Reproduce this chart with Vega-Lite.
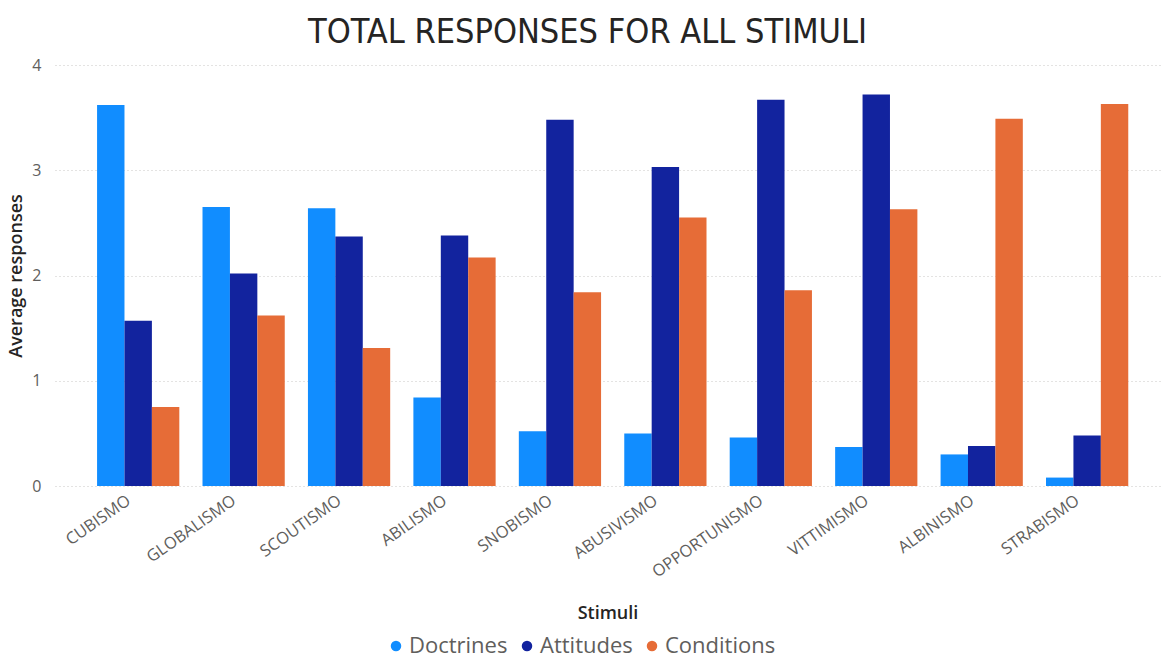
{
  "$schema": "https://vega.github.io/schema/vega-lite/v6.json",
  "width": 1105,
  "height": 421,
  "autosize": "none",
  "padding": {"left": 55, "top": 65, "right": 4, "bottom": 173},
  "background": "white",
  "title": {
    "text": "TOTAL RESPONSES FOR ALL STIMULI",
    "font": "DejaVu Sans Condensed",
    "fontSize": 34,
    "fontWeight": "normal",
    "color": "#252423",
    "anchor": "middle",
    "dx": -20,
    "offset": 7
  },
  "data": {
    "values": [
      {"stimulus": "CUBISMO", "type": "Doctrines", "value": 3.62},
      {"stimulus": "CUBISMO", "type": "Attitudes", "value": 1.57},
      {"stimulus": "CUBISMO", "type": "Conditions", "value": 0.75},
      {"stimulus": "GLOBALISMO", "type": "Doctrines", "value": 2.65},
      {"stimulus": "GLOBALISMO", "type": "Attitudes", "value": 2.02},
      {"stimulus": "GLOBALISMO", "type": "Conditions", "value": 1.62},
      {"stimulus": "SCOUTISMO", "type": "Doctrines", "value": 2.64},
      {"stimulus": "SCOUTISMO", "type": "Attitudes", "value": 2.37},
      {"stimulus": "SCOUTISMO", "type": "Conditions", "value": 1.31},
      {"stimulus": "ABILISMO", "type": "Doctrines", "value": 0.84},
      {"stimulus": "ABILISMO", "type": "Attitudes", "value": 2.38},
      {"stimulus": "ABILISMO", "type": "Conditions", "value": 2.17},
      {"stimulus": "SNOBISMO", "type": "Doctrines", "value": 0.52},
      {"stimulus": "SNOBISMO", "type": "Attitudes", "value": 3.48},
      {"stimulus": "SNOBISMO", "type": "Conditions", "value": 1.84},
      {"stimulus": "ABUSIVISMO", "type": "Doctrines", "value": 0.50},
      {"stimulus": "ABUSIVISMO", "type": "Attitudes", "value": 3.03},
      {"stimulus": "ABUSIVISMO", "type": "Conditions", "value": 2.55},
      {"stimulus": "OPPORTUNISMO", "type": "Doctrines", "value": 0.46},
      {"stimulus": "OPPORTUNISMO", "type": "Attitudes", "value": 3.67},
      {"stimulus": "OPPORTUNISMO", "type": "Conditions", "value": 1.86},
      {"stimulus": "VITTIMISMO", "type": "Doctrines", "value": 0.37},
      {"stimulus": "VITTIMISMO", "type": "Attitudes", "value": 3.72},
      {"stimulus": "VITTIMISMO", "type": "Conditions", "value": 2.63},
      {"stimulus": "ALBINISMO", "type": "Doctrines", "value": 0.30},
      {"stimulus": "ALBINISMO", "type": "Attitudes", "value": 0.38},
      {"stimulus": "ALBINISMO", "type": "Conditions", "value": 3.49},
      {"stimulus": "STRABISMO", "type": "Doctrines", "value": 0.08},
      {"stimulus": "STRABISMO", "type": "Attitudes", "value": 0.48},
      {"stimulus": "STRABISMO", "type": "Conditions", "value": 3.63}
    ]
  },
  "mark": {"type": "bar"},
  "encoding": {
    "x": {
      "field": "stimulus",
      "type": "nominal",
      "sort": null,
      "scale": {"paddingInner": 0.22, "paddingOuter": 0.35, "align": 0.57},
      "axis": {
        "title": "Stimuli",
        "titleFont": "Open Sans",
        "titleFontSize": 18,
        "titleFontWeight": 600,
        "titleColor": "#252423",
        "titlePadding": 24,
        "labelAngle": -35,
        "labelFont": "Open Sans",
        "labelFontSize": 16.5,
        "labelColor": "#605E5C",
        "labelPadding": 6,
        "labelOffset": -14,
        "ticks": false,
        "domain": false,
        "grid": false
      }
    },
    "xOffset": {
      "field": "type",
      "type": "nominal",
      "sort": ["Doctrines", "Attitudes", "Conditions"]
    },
    "y": {
      "field": "value",
      "type": "quantitative",
      "scale": {"domain": [0, 4]},
      "axis": {
        "title": "Average responses",
        "titleFont": "Open Sans",
        "titleFontSize": 18,
        "titleFontWeight": 600,
        "titleColor": "#252423",
        "titlePadding": 6,
        "values": [0, 1, 2, 3, 4],
        "labelFont": "Open Sans",
        "labelFontSize": 16,
        "labelColor": "#605E5C",
        "labelPadding": 14,
        "ticks": false,
        "domain": false,
        "grid": true,
        "gridColor": "#C8C6C4",
        "gridDash": [1, 3],
        "gridWidth": 1
      }
    },
    "color": {
      "field": "type",
      "type": "nominal",
      "sort": ["Doctrines", "Attitudes", "Conditions"],
      "scale": {
        "domain": ["Doctrines", "Attitudes", "Conditions"],
        "range": ["#118DFF", "#12239E", "#E66C37"]
      },
      "legend": {
        "title": null,
        "orient": "none",
        "direction": "horizontal",
        "legendX": 330,
        "legendY": 570,
        "symbolType": "circle",
        "symbolSize": 110,
        "symbolOpacity": 1,
        "labelFont": "Open Sans",
        "labelFontSize": 22,
        "labelColor": "#605E5C",
        "labelOffset": 2,
        "columnPadding": 8
      }
    }
  },
  "config": {"view": {"stroke": null}}
}
